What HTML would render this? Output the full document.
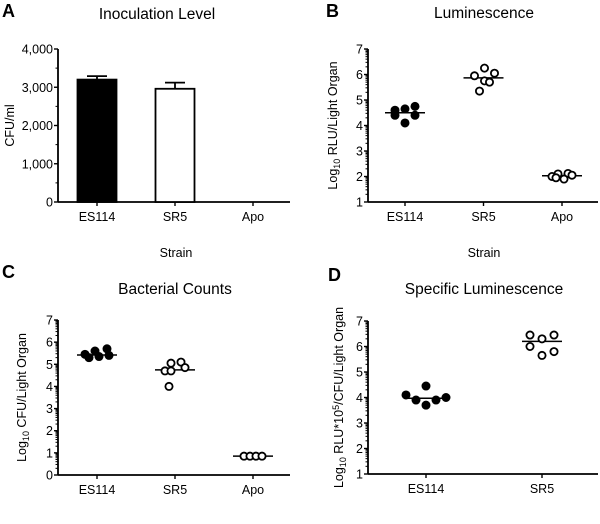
<!DOCTYPE html>
<html><head><meta charset="utf-8"><style>
body{margin:0;background:#fff;width:600px;height:519px;overflow:hidden}
svg{font-family:"Liberation Sans",Arial,sans-serif}
</style></head><body>
<svg id="s" width="600" height="519" xmlns="http://www.w3.org/2000/svg"></svg>
<script>
const NS="http://www.w3.org/2000/svg";
const svg=document.getElementById('s');
// Panel A data
const catsA=["ES114","SR5","Apo"];
const meansA=[3200,2960,0];
const errA=[90,160,0];
const ticksA=["0","1,000","2,000","3,000","4,000"];
// Panel B data
const catsB=["ES114","SR5","Apo"];
const ptsB=[[4.6,4.65,4.75,4.4,4.4,4.1],[5.95,6.25,6.05,5.75,5.7,5.35],[2.0,2.1,2.12,1.95,1.9,2.05]];
const meanB=[4.5,5.87,2.03];
// Panel C data
const catsC=["ES114","SR5","Apo"];
const ptsC=[[5.45,5.6,5.7,5.3,5.35,5.4],[4.7,5.05,5.1,4.7,4.85,4.0],[0.85,0.85,0.85,0.85]];
const meanC=[5.42,4.75,0.85];
// Panel D data
const catsD=["ES114","SR5"];
const ptsD=[[4.1,3.9,4.45,3.7,3.9,4.0],[6.45,6.0,6.3,5.65,6.45,5.8]];
const meanD=[3.97,6.2];

// horizontal jitter (px) of each point within its column
const jitB=[[-10,0,10,-10,10,0],[-9,1,11,1,6,-4],[-10,-4,6,-6,2,10]];
const jitC=[[-12,-2,10,-8,2,12],[-10,-4,6,-4,10,-6],[-9,-3,3,9]];
const jitD=[[-20,-10,0,0,10,20],[-12,-12,0,0,12,12]];

function el(t,a,p){const e=document.createElementNS(NS,t);for(const k in a)e.setAttribute(k,a[k]);(p||svg).appendChild(e);return e;}
function txt(x,y,s,size,anchor,p,extra){const e=el('text',Object.assign({x:x,y:y,'font-size':size,'text-anchor':anchor||'middle',fill:'#000'},extra||{}),p);e.textContent=s;return e;}

function panel(o){
  const g=el('g',{});
  
  
  const yS=v=>o.y0-(v-o.vmin)/(o.vmax-o.vmin)*(o.y0-o.y1);
  const xS=i=>o.xc0+i*o.dx;
  const lt=txt(o.lx,o.ly,o.letter,18,'start',g,{'font-weight':'bold'});
  
  const ti=txt(o.tx,o.ty,o.title,15.5,'middle',g);
  
  el('line',{x1:o.ax,y1:o.y0,x2:o.xend,y2:o.y0,stroke:'#000','stroke-width':1.8},g);
  el('line',{x1:o.ax,y1:o.y1,x2:o.ax,y2:o.y0,stroke:'#000','stroke-width':1.8},g);
  const nt=o.tickLabels.length;
  for(let i=0;i<nt;i++){
    const v=o.vmin+i*(o.vmax-o.vmin)/(nt-1);const y=yS(v);
    el('line',{x1:o.ax-4,y1:y,x2:o.ax,y2:y,stroke:'#000','stroke-width':1.4},g);
    const t=txt(o.ax-5,y+4.5,o.tickLabels[i],12.5,'end',g);
    
    if(i<nt-1){
      if(o.log){for(let m=2;m<10;m++){const yy=yS(v+Math.log10(m));el('line',{x1:o.ax-2.5,y1:yy,x2:o.ax,y2:yy,stroke:'#000','stroke-width':1},g);}}
      else{const yy=yS(v+(o.vmax-o.vmin)/(nt-1)/2);el('line',{x1:o.ax-2.5,y1:yy,x2:o.ax,y2:yy,stroke:'#000','stroke-width':1},g);}
    }
  }
  o.cats.forEach((c,i)=>{
    el('line',{x1:xS(i),y1:o.y0,x2:xS(i),y2:o.y0+4,stroke:'#000','stroke-width':1.4},g);
    const t=txt(xS(i),o.y0+19,c,12.5,'middle',g);
    
  });
  const xt=txt(o.stx,o.y0+55,'Strain',12.5,'middle',g);
  
  const yt=el('text',{x:0,y:0,'font-size':12.5,'text-anchor':'middle',fill:'#000',transform:`translate(${o.ytx},${(o.y0+o.y1)/2}) rotate(-90)`},g);
  yt.innerHTML=o.ylab;
  
  if(o.bars){
    o.bars.forEach((v,i)=>{
      if(v<=0)return;
      const x=xS(i),w=39;
      const e=o.err[i];
      el('line',{x1:x,y1:yS(v),x2:x,y2:yS(v+e),stroke:'#000','stroke-width':1.8},g);
      el('line',{x1:x-10,y1:yS(v+e),x2:x+10,y2:yS(v+e),stroke:'#000','stroke-width':1.8},g);
      const r=el('rect',{x:x-w/2,y:yS(v),width:w,height:o.y0-yS(v),fill:i==0?'#000':'#fff',stroke:'#000','stroke-width':1.8},g);
      
    });
  }
  if(o.pts){
    o.pts.forEach((arr,i)=>{
      const x=xS(i);
      el('line',{x1:x-20,y1:yS(o.means[i]),x2:x+20,y2:yS(o.means[i]),stroke:'#000','stroke-width':1.5},g);
      arr.forEach((v,j)=>{
        const c=el('circle',{cx:x+o.jit[i][j],cy:yS(v),r:3.6,fill:i==0?'#000':'#fff',stroke:'#000','stroke-width':1.8},g);
        
      });
    });
  }
}
const sub10='Log<tspan font-size="9" dy="3">10</tspan><tspan dy="-3">';
panel({name:'panel-a-inoculation-level',letter:'A',lx:2,ly:17,title:'Inoculation Level',tx:157,ty:19,ax:58,xend:290,y0:202,y1:49,vmin:0,vmax:4000,tickLabels:ticksA,log:false,cats:catsA,xc0:97,dx:78,stx:176,ytx:14,ylab:'CFU/ml',bars:meansA,err:errA});
panel({name:'panel-b-luminescence',letter:'B',lx:326,ly:17,title:'Luminescence',tx:484,ty:18,ax:368,xend:598,y0:202,y1:49,vmin:1,vmax:7,tickLabels:["1","2","3","4","5","6","7"],log:true,cats:catsB,xc0:405,dx:78.5,stx:484,ytx:337,ylab:sub10+' RLU/Light Organ</tspan>',pts:ptsB,means:meanB,jit:jitB});
panel({name:'panel-c-bacterial-counts',letter:'C',lx:2,ly:278,title:'Bacterial Counts',tx:175,ty:294,ax:58,xend:290,y0:475,y1:320,vmin:0,vmax:7,tickLabels:["0","1","2","3","4","5","6","7"],log:true,cats:catsC,xc0:97,dx:78,stx:176,ytx:26,ylab:sub10+' CFU/Light Organ</tspan>',pts:ptsC,means:meanC,jit:jitC});
panel({name:'panel-d-specific-luminescence',letter:'D',lx:328,ly:281,title:'Specific Luminescence',tx:484,ty:294,ax:368,xend:598,y0:474,y1:321,vmin:1,vmax:7,tickLabels:["1","2","3","4","5","6","7"],log:true,cats:catsD,xc0:426,dx:116,stx:484,ytx:343,ylab:sub10+' RLU*10<tspan font-size="9" dy="-4">5</tspan><tspan dy="4">/CFU/Light Organ</tspan></tspan>',pts:ptsD,means:meanD,jit:jitD});
</script>
</body></html>
